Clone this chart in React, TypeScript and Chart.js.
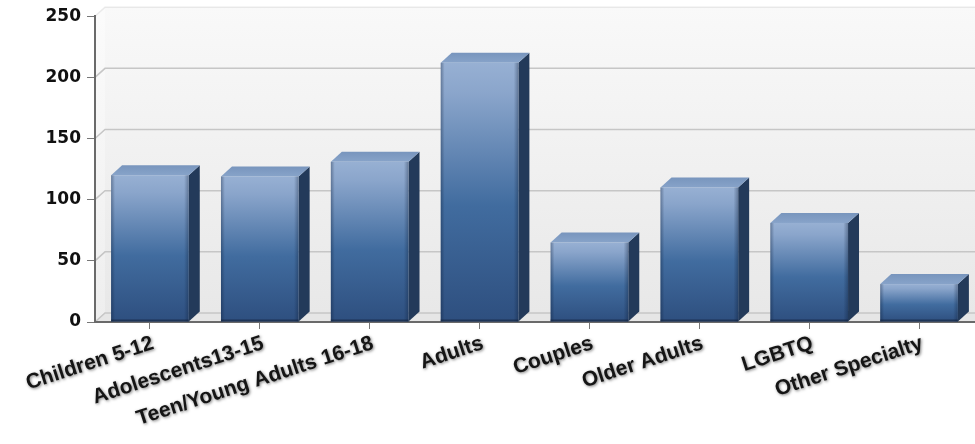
import React, { useEffect, useRef } from "react";
import { Chart, registerables } from "chart.js";

Chart.register(...registerables);

const categories = [
  "Children 5-12",
  "Adolescents13-15",
  "Teen/Young Adults 16-18",
  "Adults",
  "Couples",
  "Older Adults",
  "LGBTQ",
  "Other Specialty",
];
const values = [120, 119, 131, 212, 65, 110, 81, 31];
const yMin = 0;
const yMax = 250;
const yStep = 50;

const WALL_DX = 10;
const WALL_DY = 9;
const BAR_DX = 11;
const BAR_DY = 10;

const wallPlugin = {
  id: "wall3d",
  beforeDraw(chart: any) {
    const { ctx, chartArea } = chart;
    const { left, right, top, bottom } = chartArea;
    const y = chart.scales.y;
    ctx.save();
    ctx.fillStyle = "#ffffff";
    ctx.fillRect(0, 0, chart.width, chart.height);
    const g = ctx.createLinearGradient(0, top - WALL_DY, 0, bottom - WALL_DY);
    g.addColorStop(0, "#f9f9f9");
    g.addColorStop(1, "#e8e8e8");
    ctx.fillStyle = g;
    ctx.fillRect(left + WALL_DX, top - WALL_DY, right - left + 20, bottom - top);
    const gl = ctx.createLinearGradient(0, top, 0, bottom);
    gl.addColorStop(0, "#fbfbfb");
    gl.addColorStop(1, "#eeeeee");
    ctx.fillStyle = gl;
    ctx.beginPath();
    ctx.moveTo(left, top);
    ctx.lineTo(left + WALL_DX, top - WALL_DY);
    ctx.lineTo(left + WALL_DX, bottom - WALL_DY);
    ctx.lineTo(left, bottom);
    ctx.closePath();
    ctx.fill();
    ctx.fillStyle = "#e6e6e6";
    ctx.beginPath();
    ctx.moveTo(left, bottom);
    ctx.lineTo(left + WALL_DX, bottom - WALL_DY);
    ctx.lineTo(right + 30, bottom - WALL_DY);
    ctx.lineTo(right + 30, bottom);
    ctx.closePath();
    ctx.fill();
    ctx.strokeStyle = "#c6c6c6";
    ctx.lineWidth = 1.5;
    for (let v = yMin; v <= yMax; v += yStep) {
      const py = y.getPixelForValue(v);
      ctx.globalAlpha = v === yMax ? 0.35 : 1;
      ctx.beginPath();
      ctx.moveTo(left, py);
      ctx.lineTo(left + WALL_DX, py - WALL_DY);
      ctx.lineTo(chart.width, py - WALL_DY);
      ctx.stroke();
    }
    ctx.restore();
  },
};

const bar3dPlugin = {
  id: "bar3d",
  afterDatasetsDraw(chart: any) {
    const { ctx } = chart;
    const meta = chart.getDatasetMeta(0);
    ctx.save();
    meta.data.forEach((el: any) => {
      const { x, y, base, width } = el.getProps(["x", "y", "base", "width"], true);
      const l = x - width / 2;
      const r = x + width / 2;
      ctx.fillStyle = "#233a5a";
      ctx.beginPath();
      ctx.moveTo(r, y);
      ctx.lineTo(r + BAR_DX, y - BAR_DY);
      ctx.lineTo(r + BAR_DX, base - BAR_DY);
      ctx.lineTo(r, base);
      ctx.closePath();
      ctx.fill();
      const gt = ctx.createLinearGradient(0, y - BAR_DY, 0, y);
      gt.addColorStop(0, "#7895bd");
      gt.addColorStop(1, "#87a3c9");
      ctx.fillStyle = gt;
      ctx.beginPath();
      ctx.moveTo(l, y);
      ctx.lineTo(l + BAR_DX, y - BAR_DY);
      ctx.lineTo(r + BAR_DX, y - BAR_DY);
      ctx.lineTo(r, y);
      ctx.closePath();
      ctx.fill();
      const gf = ctx.createLinearGradient(0, y, 0, base);
      gf.addColorStop(0, "#97b0d3");
      gf.addColorStop(0.12, "#8aa5cb");
      gf.addColorStop(0.55, "#416c9f");
      gf.addColorStop(1, "#2e4f7f");
      ctx.fillStyle = gf;
      ctx.fillRect(l, y, width, base - y);
      const gh = ctx.createLinearGradient(l, 0, r, 0);
      gh.addColorStop(0, "rgba(10,25,50,0.35)");
      gh.addColorStop(0.05, "rgba(10,25,50,0)");
      gh.addColorStop(0.94, "rgba(10,25,50,0)");
      gh.addColorStop(1, "rgba(10,25,50,0.35)");
      ctx.fillStyle = gh;
      ctx.fillRect(l, y, width, base - y);
      ctx.fillStyle = "rgba(20,35,60,0.6)";
      ctx.fillRect(l, base - 2, width, 2);
    });
    ctx.restore();
  },
};

const xLabelPlugin = {
  id: "xlabels",
  afterDraw(chart: any) {
    const { ctx, chartArea } = chart;
    const xs = chart.scales.x;
    ctx.save();
    ctx.font = "bold 21px 'Liberation Sans'";
    ctx.fillStyle = "#151515";
    ctx.textAlign = "right";
    ctx.textBaseline = "top";
    ctx.shadowColor = "rgba(0,0,0,0.5)";
    ctx.shadowBlur = 3;
    ctx.shadowOffsetX = 1;
    ctx.shadowOffsetY = 1;
    (chart.data.labels as string[]).forEach((lab, i) => {
      const px = xs.getPixelForValue(i);
      ctx.save();
      ctx.translate(px, chartArea.bottom + 11);
      ctx.rotate((-18 * Math.PI) / 180);
      ctx.fillText(lab, 0, 0);
      ctx.restore();
    });
    ctx.restore();
  },
};

export default function App() {
  const ref = useRef<HTMLCanvasElement>(null);
  useEffect(() => {
    if (!ref.current) return;
    const chart = new Chart(ref.current, {
      type: "bar",
      data: {
        labels: categories,
        datasets: [
          {
            data: values,
            backgroundColor: "rgba(0,0,0,0)",
            borderWidth: 0,
            barPercentage: 0.707,
            categoryPercentage: 1,
          },
        ],
      },
      options: {
        animation: false,
        responsive: false,
        events: [],
        layout: { padding: { top: 15, right: 1, left: 0, bottom: 0 } },
        plugins: { legend: { display: false }, tooltip: { enabled: false } },
        scales: {
          x: {
            type: "category",
            offset: true,
            grid: {
              offset: false,
              drawOnChartArea: false,
              drawTicks: true,
              tickLength: 7,
              color: "#777777",
            },
            border: { display: true, color: "#6a6a6a", width: 2 },
            ticks: { display: false, autoSkip: false },
            afterFit: (s: any) => {
              s.height = 122;
            },
          },
          y: {
            min: yMin,
            max: yMax,
            ticks: {
              stepSize: yStep,
              color: "#111111",
              padding: 6,
              font: { family: "'DejaVu Sans'", size: 17, weight: "bold" },
            },
            grid: {
              drawOnChartArea: false,
              drawTicks: true,
              tickLength: 8,
              color: "#777777",
            },
            border: { display: true, color: "#6a6a6a", width: 2 },
            afterFit: (s: any) => {
              s.width = 95;
            },
          },
        },
      },
      plugins: [wallPlugin, bar3dPlugin, xLabelPlugin],
    });
    return () => chart.destroy();
  }, []);
  return (
    <div style={{ position: "fixed", left: 0, top: 0, width: 975, height: 444, background: "#fff" }}>
      <canvas ref={ref} width={975} height={444} style={{ display: "block" }} />
    </div>
  );
}
